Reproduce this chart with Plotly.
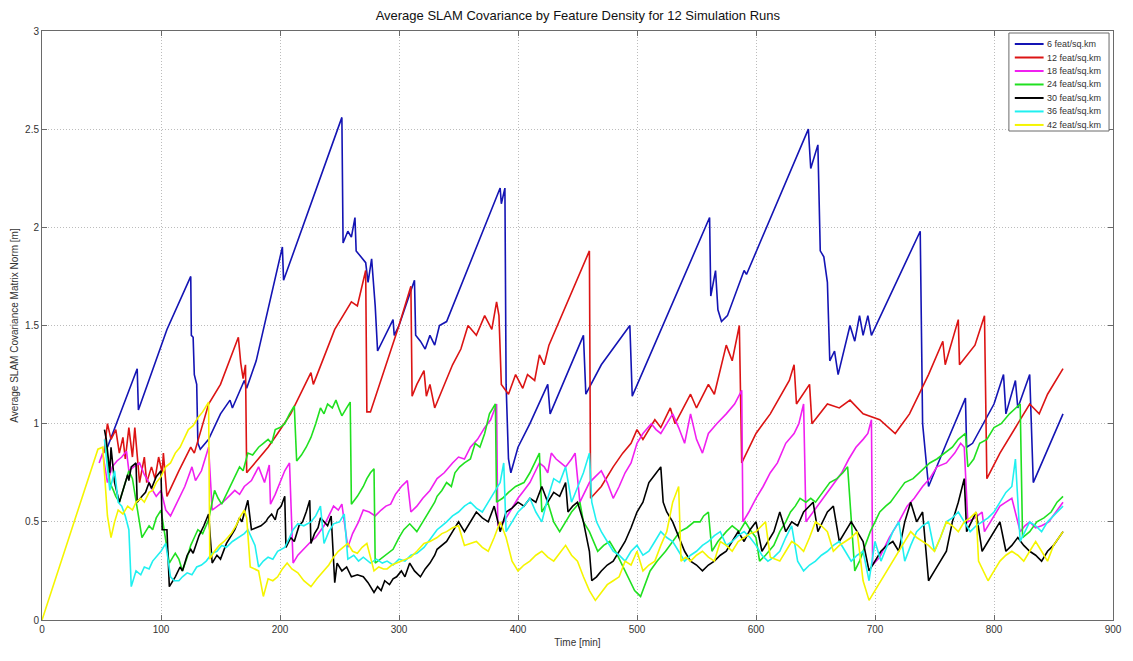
import plotly.graph_objects as go

# Feature densities and their line colours
labels = ["6 feat/sq.km", "12 feat/sq.km", "18 feat/sq.km", "24 feat/sq.km",
          "30 feat/sq.km", "36 feat/sq.km", "42 feat/sq.km"]
colors = ["#1414b4", "#dc1414", "#f020f0", "#20e020", "#000000", "#20f0f0", "#f5f500"]

# 6 feat/sq.km
t6 = [55, 80, 81, 105, 125, 125.5, 127, 128, 130, 131, 133, 140, 150, 158, 160, 170, 172, 180, 202, 203,
      252, 252.5, 253, 257, 260, 263, 264, 268, 272, 274, 277, 280, 282, 295, 296, 300, 313, 314, 318, 322,
      326, 330, 334, 340, 385, 386, 389, 390, 392, 394, 400, 410, 425, 427, 455, 457, 470, 494, 496, 561,
      562, 566, 568, 571, 576, 590, 592, 644, 646, 652, 654, 657, 660, 662, 666, 669, 679, 683, 687, 690,
      694, 697, 738, 740, 745, 760, 776, 777, 782, 800, 808, 810, 818, 820, 830, 833, 858]
v6 = [0.88, 1.28, 1.07, 1.48, 1.75, 1.45, 1.44, 1.25, 1.2, 0.9, 0.87, 0.92, 1.05, 1.12, 1.08, 1.22, 1.18, 1.32, 1.9, 1.73,
      2.56, 2.22, 1.92, 1.98, 1.95, 2.05, 1.88, 1.85, 1.82, 1.72, 1.84, 1.6, 1.37, 1.53, 1.45, 1.5, 1.73, 1.45, 1.42, 1.38,
      1.45, 1.4, 1.5, 1.52, 2.2, 2.12, 2.2, 1.2, 0.82, 0.75, 0.88, 1.0, 1.2, 1.05, 1.45, 1.15, 1.3, 1.5, 1.14, 2.05,
      1.65, 1.78, 1.58, 1.52, 1.55, 1.78, 1.76, 2.5, 2.3, 2.42, 1.88, 1.85, 1.72, 1.32, 1.37, 1.25, 1.5, 1.42, 1.55, 1.45,
      1.55, 1.45, 1.98, 1.0, 0.68, 0.9, 1.13, 0.88, 0.9, 1.1, 1.25, 1.05, 1.22, 1.08, 1.25, 0.7, 1.05]

# 12 feat/sq.km
t12 = [52, 55, 58, 62, 65, 68, 70, 73, 76, 78, 82, 86, 88, 92, 95, 98, 101, 102, 105, 115,
       125, 128, 140, 150, 165, 167, 169, 171, 172, 182, 190, 198, 209, 226, 228, 246, 260, 265, 272, 273,
       276, 300, 310, 311, 315, 321, 323, 326, 330, 345, 352, 358, 365, 372, 378, 382, 384, 386, 392, 398,
       404, 408, 414, 418, 422, 426, 460, 461, 470, 480, 488, 495, 500, 505, 515, 520, 528, 532, 545, 550,
       560, 565, 575, 580, 586, 588, 600, 612, 628, 632, 634, 645, 647, 660, 670, 679, 690, 704, 717, 729,
       745, 757, 759, 770, 771, 784, 792, 794, 805, 820, 830, 838, 845, 858]
v12 = [0.85, 1.0, 0.92, 0.97, 0.85, 0.93, 0.82, 0.98, 0.83, 0.98, 0.7, 0.83, 0.7, 0.78, 0.72, 0.83, 0.75, 0.85, 0.63, 0.76,
       0.88, 0.85, 1.1, 1.2, 1.44, 1.31, 1.23, 1.3, 0.75, 0.82, 0.88, 0.95, 1.05, 1.26, 1.2, 1.48, 1.62, 1.6, 1.78, 1.06,
       1.06, 1.5, 1.7, 1.14, 1.2, 1.27, 1.14, 1.2, 1.08, 1.3, 1.38, 1.5, 1.45, 1.55, 1.48, 1.62, 1.55, 1.2, 1.15, 1.25,
       1.18, 1.25, 1.22, 1.35, 1.3, 1.4, 1.88, 0.62, 0.68, 0.78, 0.85, 0.9, 0.97, 0.92, 1.02, 0.98, 1.08, 1.0, 1.15, 1.08,
       1.2, 1.15, 1.4, 1.32, 1.5, 0.8, 0.95, 1.05, 1.22, 1.3, 1.1, 1.2, 1.0, 1.1, 1.08, 1.12, 1.05, 1.02, 0.95, 1.05,
       1.25, 1.42, 1.3, 1.53, 1.3, 1.4, 1.55, 0.72, 0.85, 1.0, 1.1, 1.05, 1.15, 1.28]

# 18 feat/sq.km
t18 = [48, 51, 55, 59, 63, 67, 71, 73, 77, 82, 86, 90, 93, 96, 100, 104, 108, 112, 116, 120,
       123, 126, 129, 134, 137, 140, 143, 147, 152, 157, 162, 166, 170, 176, 182, 187, 191, 192, 196, 200,
       204, 208, 211, 215, 221, 226, 230, 237, 241, 245, 249, 252, 257, 261, 266, 270, 275, 280, 285, 289,
       293, 297, 302, 307, 310, 315, 320, 326, 332, 338, 345, 350, 355, 360, 366, 372, 377, 382, 383, 388,
       393, 400, 405, 410, 414, 418, 422, 425, 428, 432, 436, 440, 445, 448, 452, 456, 460, 465, 470, 475,
       480, 485, 490, 495, 500, 505, 512, 516, 520, 525, 530, 535, 540, 545, 550, 555, 560, 567, 575, 582,
       588, 589, 594, 600, 606, 612, 618, 625, 632, 636, 640, 642, 648, 654, 660, 666, 672, 678, 684, 690,
       694, 697, 698, 704, 712, 720, 727, 733, 740, 746, 752, 760, 767, 772, 775, 778, 784, 790, 792, 797,
       805, 810, 815, 822, 826, 830, 835, 840, 846, 852, 858]
v18 = [0.8, 0.85, 0.7, 0.78, 0.81, 0.83, 0.86, 0.76, 0.78, 0.8, 0.74, 0.7, 0.66, 0.63, 0.66, 0.56, 0.53, 0.58, 0.63, 0.68,
       0.73, 0.78, 0.71, 0.76, 0.82, 0.88, 0.56, 0.58, 0.6, 0.63, 0.66, 0.64, 0.68, 0.71, 0.78, 0.7, 0.79, 0.59, 0.64, 0.7,
       0.76, 0.8, 0.29, 0.33, 0.37, 0.4, 0.42, 0.48, 0.53, 0.58, 0.56, 0.59, 0.37, 0.44, 0.5, 0.56, 0.55, 0.53, 0.56, 0.58,
       0.59, 0.64, 0.68, 0.71, 0.55, 0.58, 0.62, 0.66, 0.72, 0.75, 0.8, 0.83, 0.82, 0.88, 0.92, 0.98, 1.02, 1.1, 0.48, 0.5,
       0.55, 0.62, 0.66, 0.7, 0.75, 0.8, 0.78, 0.75, 0.85, 0.82, 0.8, 0.78, 0.82, 0.85, 0.6, 0.65, 0.7, 0.73, 0.76, 0.7,
       0.62, 0.68, 0.75, 0.8, 0.9, 0.95, 1.0, 0.97, 0.95, 1.0, 1.05, 0.98, 0.9, 1.05, 0.92, 0.85, 0.95, 1.0, 1.05, 1.1,
       1.17, 0.5, 0.55, 0.62, 0.68, 0.75, 0.8, 0.9, 0.95, 1.0, 1.1, 0.5, 0.55, 0.6, 0.65, 0.7, 0.75, 0.82, 0.88, 0.92,
       0.95, 1.02, 0.28, 0.32, 0.42, 0.5, 0.58, 0.62, 0.68, 0.72, 0.78, 0.8, 0.85, 0.9, 0.88, 0.5, 0.52, 0.55, 0.45, 0.5,
       0.58, 0.6, 0.62, 0.45, 0.48, 0.5, 0.47, 0.48, 0.5, 0.55, 0.6]

# 24 feat/sq.km
t24 = [54, 57, 60, 62, 65, 69, 73, 76, 80, 84, 87, 90, 93, 96, 100, 103, 107, 110, 112, 115,
       118, 122, 125, 128, 131, 135, 140, 145, 148, 151, 155, 158, 162, 166, 169, 173, 177, 182, 186, 190,
       193, 196, 200, 204, 208, 212, 214, 218, 222, 226, 230, 234, 237, 240, 244, 247, 250, 252, 256, 259,
       260, 265, 270, 273, 276, 279, 280, 284, 287, 291, 295, 300, 304, 309, 312, 315, 320, 326, 330, 332,
       336, 340, 344, 347, 351, 355, 360, 364, 368, 372, 376, 381, 382, 387, 392, 398, 405, 410, 414, 418,
       420, 425, 430, 435, 440, 445, 452, 455, 460, 467, 472, 477, 482, 486, 490, 494, 498, 503, 507, 511,
       517, 524, 530, 536, 542, 548, 553, 556, 560, 563, 568, 572, 575, 580, 586, 591, 595, 600, 603, 608,
       615, 620, 625, 629, 633, 637, 642, 646, 650, 656, 662, 668, 673, 677, 679, 683, 687, 692, 696, 700,
       704, 709, 713, 719, 725, 732, 739, 746, 752, 759, 765, 770, 776, 778, 783, 788, 794, 800, 806, 813,
       818, 822, 824, 830, 836, 842, 848, 853, 858]
v24 = [0.89, 0.7, 0.66, 0.63, 0.6, 0.68, 0.76, 0.72, 0.56, 0.42, 0.45, 0.48, 0.46, 0.52, 0.56, 0.45, 0.29, 0.32, 0.34, 0.31,
       0.25, 0.32, 0.38, 0.42, 0.46, 0.44, 0.51, 0.66, 0.62, 0.59, 0.64, 0.68, 0.73, 0.78, 0.76, 0.85, 0.84, 0.88, 0.9, 0.92,
       0.9, 0.97, 0.98, 1.0, 1.05, 1.09, 0.81, 0.84, 0.88, 0.93, 1.0, 1.08, 1.05, 1.1, 1.08, 1.12, 1.07, 1.04, 1.08, 1.11,
       0.59, 0.63, 0.68, 0.72, 0.75, 0.77, 0.29, 0.31, 0.32, 0.34, 0.36, 0.42, 0.46, 0.49, 0.47, 0.45, 0.5, 0.56, 0.6, 0.63,
       0.66, 0.7, 0.68, 0.75, 0.78, 0.8, 0.82, 0.9, 0.88, 0.95, 1.05, 1.1, 0.6, 0.62, 0.65, 0.68, 0.7, 0.75, 0.8, 0.85,
       0.55, 0.6, 0.5, 0.45, 0.5, 0.55, 0.6, 0.5, 0.45, 0.35, 0.38, 0.4, 0.35, 0.3, 0.25, 0.2, 0.15, 0.12, 0.18, 0.25,
       0.3, 0.35, 0.4, 0.45, 0.47, 0.5, 0.5, 0.53, 0.55, 0.35, 0.4, 0.43, 0.45, 0.48, 0.45, 0.5, 0.46, 0.42, 0.3, 0.33,
       0.38, 0.45, 0.5, 0.55, 0.58, 0.62, 0.6, 0.62, 0.6, 0.65, 0.7, 0.72, 0.75, 0.78, 0.6, 0.25, 0.3, 0.38, 0.45, 0.5,
       0.55, 0.58, 0.6, 0.65, 0.7, 0.72, 0.76, 0.8, 0.82, 0.85, 0.88, 0.92, 0.95, 0.78, 0.82, 0.9, 0.92, 0.98, 1.0, 1.05,
       1.08, 1.1, 0.42, 0.45, 0.5, 0.52, 0.55, 0.6, 0.63]

# 30 feat/sq.km
t30 = [52.5, 54, 57, 58, 61, 65, 69, 72, 73, 75, 79, 80, 84, 87, 90, 92, 96, 100, 101, 105,
       107, 110, 112, 116, 118, 122, 125, 127, 132, 136, 140, 143, 147, 150, 155, 158, 162, 166, 168, 173,
       176, 180, 184, 188, 190, 193, 196, 198, 201, 204, 205, 209, 212, 216, 219, 222, 225, 226, 229, 232,
       234, 237, 240, 243, 246, 248, 252, 256, 260, 265, 270, 274, 279, 282, 285, 288, 292, 295, 298, 302,
       305, 309, 313, 318, 322, 326, 330, 332, 336, 340, 345, 350, 355, 360, 365, 370, 375, 380, 385, 390,
       395, 400, 405, 410, 415, 420, 425, 430, 435, 440, 442, 446, 450, 455, 460, 462, 466, 470, 475, 480,
       485, 490, 495, 500, 505, 510, 515, 520, 522, 525, 530, 535, 540, 545, 550, 555, 560, 565, 570, 575,
       580, 585, 590, 595, 600, 605, 610, 615, 620, 625, 630, 635, 640, 648, 652, 656, 660, 665, 670, 675,
       680, 685, 690, 695, 700, 705, 710, 715, 720, 725, 730, 735, 740, 745, 750, 755, 760, 765, 770, 775,
       777, 781, 785, 790, 795, 800, 805, 810, 815, 820, 825, 830, 835, 840, 845, 850, 858]
v30 = [0.97, 0.92, 0.75, 0.88, 0.7, 0.6, 0.68, 0.74, 0.71, 0.78, 0.8, 0.6, 0.63, 0.65, 0.7, 0.67, 0.73, 0.76, 0.46, 0.46,
       0.17, 0.2, 0.22, 0.27, 0.25, 0.33, 0.36, 0.34, 0.43, 0.48, 0.54, 0.29, 0.33, 0.31, 0.39, 0.42, 0.46, 0.52, 0.5, 0.61,
       0.46, 0.47, 0.48, 0.5, 0.52, 0.54, 0.51, 0.56, 0.58, 0.63, 0.37, 0.42, 0.4, 0.48, 0.5, 0.55, 0.61, 0.39, 0.44, 0.47,
       0.52, 0.5, 0.48, 0.53, 0.19, 0.29, 0.25, 0.27, 0.22, 0.23, 0.22, 0.19, 0.14, 0.17, 0.15, 0.2, 0.18, 0.21, 0.22, 0.25,
       0.22, 0.29, 0.25, 0.22, 0.26, 0.29, 0.33, 0.36, 0.38, 0.4, 0.45, 0.5, 0.45, 0.5, 0.55, 0.52, 0.5, 0.58, 0.45, 0.55,
       0.57, 0.6, 0.58, 0.62, 0.6, 0.68, 0.6, 0.65, 0.63, 0.7, 0.55, 0.58, 0.6, 0.5, 0.35, 0.2, 0.22, 0.25, 0.28, 0.3,
       0.35, 0.4, 0.47, 0.55, 0.6, 0.7, 0.74, 0.78, 0.6, 0.55, 0.5, 0.42, 0.35, 0.3, 0.28, 0.25, 0.28, 0.3, 0.33, 0.35,
       0.4, 0.45, 0.4, 0.46, 0.5, 0.35, 0.4, 0.45, 0.55, 0.45, 0.5, 0.48, 0.55, 0.6, 0.45, 0.5, 0.55, 0.58, 0.4, 0.45,
       0.5, 0.45, 0.4, 0.25, 0.3, 0.35, 0.38, 0.4, 0.35, 0.5, 0.6, 0.5, 0.55, 0.2, 0.25, 0.3, 0.35, 0.5, 0.6, 0.72,
       0.45, 0.5, 0.55, 0.35, 0.4, 0.45, 0.5, 0.35, 0.38, 0.42, 0.38, 0.35, 0.33, 0.3, 0.35, 0.38, 0.45]

# 36 feat/sq.km
t36 = [52.5, 57, 61, 64, 67, 70, 73, 75, 79, 83, 86, 90, 93, 96, 100, 104, 108, 111, 115, 118,
       122, 126, 130, 134, 138, 143, 147, 151, 155, 160, 165, 170, 173, 176, 179, 182, 186, 190, 194, 198,
       204, 208, 211, 215, 220, 226, 230, 234, 237, 241, 245, 250, 254, 257, 262, 266, 270, 276, 281, 286,
       290, 295, 300, 305, 310, 315, 321, 326, 332, 336, 340, 345, 350, 355, 360, 365, 370, 375, 380, 385,
       388, 390, 395, 400, 405, 410, 415, 420, 425, 430, 435, 440, 445, 450, 455, 460, 462, 466, 470, 475,
       480, 485, 490, 495, 500, 505, 510, 515, 520, 525, 530, 535, 540, 545, 550, 555, 560, 565, 570, 575,
       580, 585, 590, 595, 600, 605, 610, 615, 620, 625, 630, 635, 640, 645, 650, 655, 660, 665, 670, 675,
       680, 685, 690, 695, 700, 705, 710, 715, 720, 725, 730, 735, 740, 745, 750, 755, 760, 765, 770, 775,
       780, 785, 790, 795, 800, 805, 810, 815, 818, 822, 826, 830, 835, 840, 845, 850, 858]
v36 = [0.92, 0.66, 0.76, 0.6, 0.58, 0.53, 0.46, 0.17, 0.25, 0.23, 0.27, 0.26, 0.3, 0.32, 0.35, 0.39, 0.22, 0.2, 0.2, 0.22,
       0.24, 0.23, 0.27, 0.28, 0.3, 0.34, 0.35, 0.38, 0.37, 0.4, 0.42, 0.44, 0.46, 0.42, 0.38, 0.27, 0.3, 0.32, 0.31, 0.35,
       0.37, 0.42, 0.46, 0.49, 0.48, 0.5, 0.53, 0.58, 0.39, 0.45, 0.49, 0.5, 0.54, 0.31, 0.33, 0.3, 0.32, 0.29, 0.31, 0.29,
       0.3, 0.28, 0.31, 0.3, 0.33, 0.34, 0.37, 0.41, 0.46, 0.48, 0.5, 0.53, 0.55, 0.58, 0.6, 0.57, 0.55, 0.6, 0.65, 0.7,
       0.8, 0.45, 0.5, 0.55, 0.58, 0.62, 0.55, 0.5, 0.62, 0.72, 0.7, 0.78, 0.6, 0.68, 0.75, 0.85, 0.6, 0.5, 0.45, 0.4,
       0.35, 0.33, 0.3, 0.35, 0.38, 0.33, 0.35, 0.4, 0.45, 0.42, 0.4, 0.35, 0.3, 0.33, 0.35, 0.38, 0.4, 0.43, 0.45, 0.38,
       0.4, 0.43, 0.45, 0.42, 0.38, 0.33, 0.3, 0.32, 0.35, 0.42, 0.48, 0.3, 0.25, 0.28, 0.3, 0.33, 0.35, 0.38, 0.4, 0.35,
       0.3, 0.33, 0.35, 0.2, 0.4, 0.3, 0.38, 0.45, 0.5, 0.3, 0.38, 0.45, 0.48, 0.5, 0.35, 0.42, 0.5, 0.52, 0.55, 0.5,
       0.45, 0.48, 0.5, 0.52, 0.55, 0.6, 0.65, 0.68, 0.82, 0.4, 0.45, 0.5, 0.48, 0.45, 0.5, 0.53, 0.58]

# 42 feat/sq.km
t42 = [0, 47, 51, 55, 58, 61, 64, 68, 72, 76, 79, 83, 86, 90, 93, 96, 100, 104, 108, 112,
       116, 119, 123, 127, 131, 135, 140, 141, 145, 149, 153, 156, 159, 163, 166, 170, 172, 175, 178, 182,
       186, 190, 194, 198, 202, 206, 210, 215, 220, 226, 231, 237, 241, 245, 249, 253, 257, 261, 265, 269,
       273, 276, 279, 283, 287, 290, 294, 298, 302, 306, 310, 315, 321, 326, 332, 336, 340, 345, 350, 355,
       360, 365, 370, 375, 380, 385, 390, 395, 400, 405, 410, 415, 420, 425, 430, 435, 440, 445, 450, 455,
       460, 465, 470, 475, 480, 485, 490, 495, 500, 505, 510, 515, 520, 525, 530, 535, 537, 541, 545, 550,
       555, 560, 565, 570, 575, 580, 585, 590, 595, 600, 605, 608, 612, 616, 620, 625, 630, 635, 640, 645,
       650, 655, 660, 665, 670, 675, 680, 685, 690, 695, 700, 705, 710, 715, 720, 725, 730, 735, 740, 745,
       750, 755, 760, 765, 770, 775, 780, 785, 787, 791, 795, 800, 805, 810, 815, 820, 825, 830, 835, 840,
       845, 850, 858]
v42 = [0.0, 0.87, 0.88, 0.53, 0.42, 0.5, 0.56, 0.54, 0.58, 0.56, 0.6, 0.62, 0.6, 0.65, 0.66, 0.7, 0.73, 0.78, 0.8, 0.85,
       0.88, 0.92, 0.97, 0.99, 1.03, 1.06, 1.11, 0.31, 0.35, 0.38, 0.4, 0.42, 0.44, 0.48, 0.52, 0.56, 0.52, 0.27, 0.26, 0.25,
       0.12, 0.21, 0.2, 0.22, 0.26, 0.29, 0.26, 0.24, 0.2, 0.17, 0.21, 0.25, 0.28, 0.32, 0.35, 0.37, 0.39, 0.35, 0.34, 0.37,
       0.39, 0.32, 0.25, 0.27, 0.26, 0.26, 0.28, 0.29, 0.3, 0.31, 0.32, 0.35, 0.39, 0.4, 0.42, 0.44, 0.45, 0.47, 0.48, 0.38,
       0.39, 0.4, 0.37, 0.35, 0.42, 0.5, 0.42, 0.3, 0.25, 0.28, 0.3, 0.33, 0.35, 0.32, 0.3, 0.34, 0.38, 0.33, 0.3, 0.22,
       0.15, 0.1, 0.14, 0.18, 0.2, 0.22, 0.3, 0.28, 0.35, 0.25, 0.28, 0.3, 0.38, 0.45, 0.6, 0.68, 0.3, 0.32, 0.3, 0.33,
       0.35, 0.32, 0.3, 0.4, 0.38, 0.35, 0.4, 0.42, 0.44, 0.45, 0.48, 0.5, 0.32, 0.31, 0.3, 0.35, 0.4, 0.38, 0.35, 0.42,
       0.5, 0.48, 0.45, 0.35, 0.38, 0.4, 0.42, 0.45, 0.2, 0.1, 0.15, 0.2, 0.25, 0.3, 0.35, 0.4, 0.45, 0.42, 0.4, 0.38,
       0.35, 0.42, 0.5, 0.48, 0.45, 0.5, 0.52, 0.55, 0.3, 0.25, 0.2, 0.25, 0.3, 0.33, 0.35, 0.33, 0.3, 0.35, 0.4, 0.35,
       0.3, 0.38, 0.45]

series_t = [t6, t12, t18, t24, t30, t36, t42]
series_v = [v6, v12, v18, v24, v30, v36, v42]

x_ticks = [0, 100, 200, 300, 400, 500, 600, 700, 800, 900]
y_ticks = [0, 0.5, 1, 1.5, 2, 2.5, 3]

fig = go.Figure()
for name, col, tt, vv in zip(labels, colors, series_t, series_v):
    fig.add_trace(go.Scatter(x=tt, y=vv, mode="lines", name=name, showlegend=False,
                             line=dict(color=col, width=1.6)))

tick_font = dict(family="Liberation Sans Narrow, Liberation Sans, Arial", size=10, color="#333333")
axis_common = dict(showline=True, linecolor="#6a6a6a", linewidth=1, mirror="ticks",
                   ticks="inside", ticklen=5, tickcolor="#6a6a6a",
                   showgrid=True, gridcolor="#bcbcbc", griddash="1px,2px", gridwidth=1,
                   zeroline=False, tickfont=tick_font)

# Compact legend box in the upper right corner of the axes
leg_x0, leg_x1 = 0.9028, 0.9963
leg_y0, leg_y1 = 0.8302, 0.9966
row_top = 0.9779
row_step = 0.0229
shapes = [dict(type="rect", xref="paper", yref="paper", x0=leg_x0, x1=leg_x1, y0=leg_y0, y1=leg_y1,
               line=dict(color="#6a6a6a", width=1), fillcolor="white", layer="above")]
annotations = []
for i, (name, col) in enumerate(zip(labels, colors)):
    yy = row_top - i * row_step
    shapes.append(dict(type="line", xref="paper", yref="paper", x0=0.9083, x1=0.9352, y0=yy, y1=yy,
                       line=dict(color=col, width=2), layer="above"))
    annotations.append(dict(xref="paper", yref="paper", x=0.9365, y=yy, xanchor="left", yanchor="middle",
                            text=name, showarrow=False,
                            font=dict(family="Liberation Sans, Arial", size=9, color="#333333")))

fig.update_layout(
    width=1133, height=661,
    margin=dict(l=42, r=11, t=31, b=41),
    paper_bgcolor="white", plot_bgcolor="white",
    title=dict(text="Average SLAM Covariance by Feature Density for 12 Simulation Runs",
               x=0.51, xanchor="center", y=0.977, yanchor="middle",
               font=dict(family="Liberation Sans, Arial", size=13, color="#111111")),
    xaxis=dict(range=[0, 900], tickvals=x_ticks,
               title=dict(text="Time [min]", standoff=4,
                          font=dict(family="Liberation Sans, Arial", size=10, color="#333333")),
               **axis_common),
    yaxis=dict(range=[0, 3], tickvals=y_ticks,
               title=dict(text="Average SLAM Covariance Matrix Norm [m]", standoff=4,
                          font=dict(family="Liberation Sans, Arial", size=10, color="#333333")),
               **axis_common),
    shapes=shapes,
    annotations=annotations,
    showlegend=False,
)

fig.write_html("out.html")
